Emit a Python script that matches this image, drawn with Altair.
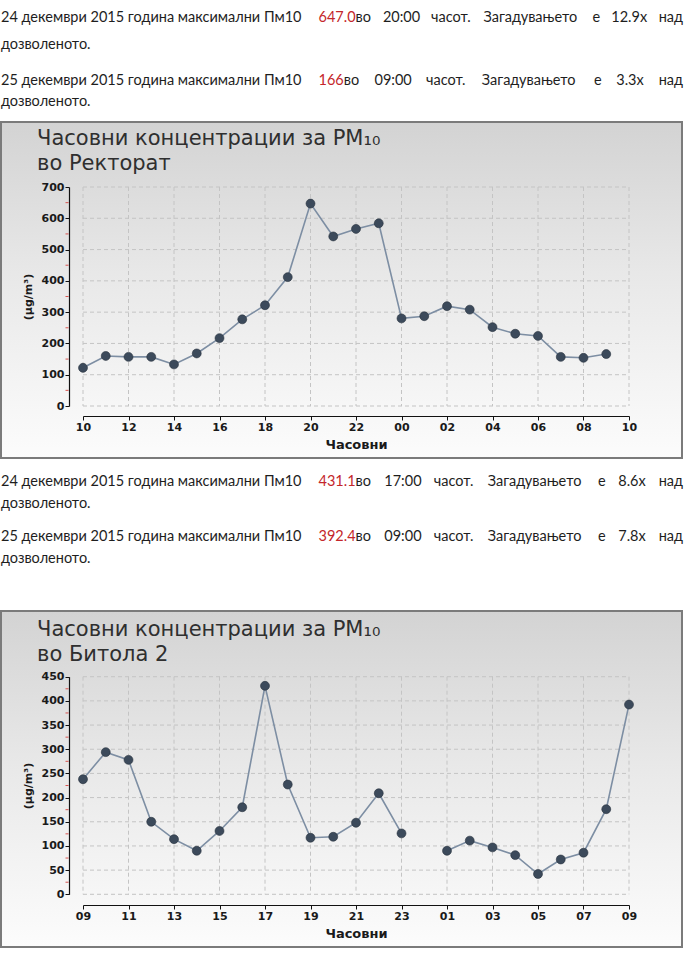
import altair as alt
import pandas as pd

# ---------------- data ----------------
hours_rektorat = list(range(10, 34))  # 10:00 (24.12) ... 09:00 (25.12)
pm10_rektorat = [122, 160, 157, 157, 133, 168, 217, 277, 322, 412, 647.0, 542,
                 566, 584, 280, 287, 319, 308, 252, 231, 224, 157, 154, 166]
xticks_rektorat = [10, 12, 14, 16, 18, 20, 22, 24, 26, 28, 30, 32, 34]
yticks_rektorat = [0, 100, 200, 300, 400, 500, 600, 700]
minor_rektorat = [50, 150, 250, 350, 450, 550, 650]

hours_bitola = list(range(9, 34))  # 09:00 (24.12) ... 09:00 (25.12)
pm10_bitola = [238, 294, 278, 150, 114, 90, 131, 180, 431.1, 227, 117, 119,
               148, 209, 126, None, 90, 111, 97, 81, 42, 72, 86, 176, 392.4]
xticks_bitola = [9, 11, 13, 15, 17, 19, 21, 23, 25, 27, 29, 31, 33]
yticks_bitola = [0, 50, 100, 150, 200, 250, 300, 350, 400, 450]
minor_bitola = [25, 75, 125, 175, 225, 275, 325, 375, 425]

chart_title = "Часовни концентрации за PM₁₀"
station_rektorat = "во Ректорат"
station_bitola = "во Битола 2"
x_title = "Часовни"
y_title = "(µg/m³)"

paragraphs_top = [
    ("24 декември 2015 година максимални Пм10", "647.0", "во",
     ["20:00", "часот.", "Загадувањето", "е", "12.9x", "над"], "дозволеното."),
    ("25 декември 2015 година максимални Пм10", "166", "во",
     ["09:00", "часот.", "Загадувањето", "е", "3.3x", "над"], "дозволеното."),
]
paragraphs_mid = [
    ("24 декември 2015 година максимални Пм10", "431.1", "во",
     ["17:00", "часот.", "Загадувањето", "е", "8.6x", "над"], "дозволеното."),
    ("25 декември 2015 година максимални Пм10", "392.4", "во",
     ["09:00", "часот.", "Загадувањето", "е", "7.8x", "над"], "дозволеното."),
]

# ---------------- style / layout ----------------
W = 690
RIGHT = 683
INK = "#1e1e1e"
RED = "#c4262b"
PFONT = "Lato"
PSIZE = 14.5

# approximate Lato advance widths (em), used only to lay out the justified lines
LATO = {' ': 0.193, '.': 0.23, ':': 0.25, 'x': 0.49,
        'а': 0.52, 'в': 0.56, 'д': 0.60, 'е': 0.55, 'з': 0.48, 'и': 0.62,
        'к': 0.55, 'л': 0.60, 'м': 0.77, 'н': 0.62, 'њ': 0.86, 'о': 0.58,
        'с': 0.48, 'т': 0.49, 'у': 0.53, 'ч': 0.57, 'г': 0.45, 'р': 0.59,
        'ј': 0.26, 'З': 0.58, 'П': 0.72}
for d in "0123456789":
    LATO[d] = 0.58


def tw(s):
    return sum(LATO.get(c, 0.56) for c in s) * PSIZE


def text_panel(paragraphs, line_ys, height):
    left_rows, right_rows = [], []
    for (lead, num, after, words, tail), (y1, y2) in zip(paragraphs, line_ys):
        x = 1.0
        left_rows.append({"t": lead, "x": x, "y": y1, "c": INK})
        x += tw(lead) + 8
        left_rows.append({"t": num, "x": x, "y": y1, "c": RED})
        x += tw(num)
        left_rows.append({"t": after, "x": x, "y": y1, "c": INK})
        x += tw(after)
        gap = (RIGHT - x - sum(tw(w) for w in words)) / len(words)
        for i, w in enumerate(words):
            x += gap
            if i == len(words) - 1:
                right_rows.append({"t": w, "x": RIGHT, "y": y1, "c": INK})
            else:
                left_rows.append({"t": w, "x": x, "y": y1, "c": INK})
            x += tw(w)
        left_rows.append({"t": tail, "x": 1.0, "y": y2, "c": INK})

    def lay(rows, align):
        return alt.Chart(pd.DataFrame(rows)).mark_text(
            align=align, baseline="middle", font=PFONT, fontSize=PSIZE
        ).encode(
            x=alt.X("x:Q", scale=None, axis=None),
            y=alt.Y("y:Q", scale=None, axis=None),
            text="t:N",
            color=alt.Color("c:N", scale=None),
        )

    return alt.layer(lay(left_rows, "left"), lay(right_rows, "right")).properties(
        width=W, height=height
    )


GRAD = alt.LinearGradient(
    gradient="linear", x1=0, x2=0, y1=0, y2=1,
    stops=[alt.GradientStop(color="#d3d3d3", offset=0),
           alt.GradientStop(color="#e8e8e8", offset=0.45),
           alt.GradientStop(color="#fcfcfc", offset=1)],
)

LBL = "(datum.value % 24 < 10 ? '0' : '') + (datum.value % 24)"
AXF = "DejaVu Sans"


def chart_panel(hours, values, xdom, xticks, ydom, yticks, minor, station,
                H, box_y, y_top, y_zero, x_axis_y, title_ys):
    rows, s = [], 0
    for h, v in zip(hours, values):
        if v is None:
            s += 1
            continue
        rows.append({"h": h, "v": v, "s": s})
    df = pd.DataFrame(rows)
    one = pd.DataFrame({"k": [0]})

    xs = alt.Scale(domain=xdom, range=[83, 629], nice=False, zero=False)
    ys = alt.Scale(domain=ydom, range=[y_zero, y_top], nice=False, zero=False)

    xaxis = alt.Axis(
        values=xticks, tickCount=len(xticks), labelExpr=LBL, title=x_title, orient="bottom",
        offset=x_axis_y - H, grid=False, zindex=1,
        domainColor="#111111", domainWidth=1.2, tickColor="#111111", tickSize=4,
        labelFont=AXF, labelFontWeight="bold", labelFontSize=11, labelColor="#1a1a1a",
        labelPadding=1, labelFlush=False, labelOverlap=False,
        titleFont=AXF, titleFontWeight="bold", titleFontSize=13, titleColor="#1a1a1a",
        titlePadding=6,
    )
    yaxis = alt.Axis(
        values=yticks, tickCount=len(yticks), title=y_title, orient="left", offset=-69,
        grid=False, zindex=1,
        domainColor="#111111", domainWidth=1.2, tickColor="#111111", tickSize=4,
        labelFont=AXF, labelFontWeight="bold", labelFontSize=11, labelColor="#1a1a1a",
        labelPadding=1, labelOverlap=False,
        titleFont=AXF, titleFontWeight="bold", titleFontSize=11, titleColor="#1a1a1a",
        titlePadding=8,
    )
    X = alt.X("h:Q", scale=xs, axis=xaxis)
    Y = alt.Y("v:Q", scale=ys, axis=yaxis)

    bg = alt.Chart(one).mark_rect(fill=GRAD, stroke="#7b7b7b", strokeWidth=2).encode(
        x=alt.value(1), x2=alt.value(682), y=alt.value(box_y), y2=alt.value(box_y + 336)
    )
    hgrid = alt.Chart(pd.DataFrame({"v": yticks})).mark_rule(
        color="#c4c4c4", strokeDash=[4, 3], strokeWidth=1
    ).encode(y=Y, x=alt.datum(xdom[0]), x2=alt.datum(xdom[1]))
    vgrid = alt.Chart(pd.DataFrame({"h": xticks})).mark_rule(
        color="#c4c4c4", strokeDash=[4, 3], strokeWidth=1
    ).encode(x=X, y=alt.datum(ydom[1]), y2=alt.datum(ydom[0]))
    minor_t = alt.Chart(pd.DataFrame({"v": minor})).mark_rule(
        color="#d9534f", strokeWidth=1
    ).encode(y=Y, x=alt.value(65.5), x2=alt.value(68.5))
    line = alt.Chart(df).mark_line(color="#7d8ea3", strokeWidth=1.6).encode(
        x=X, y=Y, detail="s:N"
    )
    pts = alt.Chart(df).mark_circle(
        size=80, color="#3c4a5b", opacity=1, stroke="#27313c", strokeWidth=0.6
    ).encode(x=X, y=Y)
    t1 = alt.Chart(one).mark_text(
        align="left", baseline="alphabetic", font=AXF, fontSize=21, color="#2f2f2f"
    ).encode(x=alt.value(37), y=alt.value(title_ys[0]), text=alt.value(chart_title))
    t2 = alt.Chart(one).mark_text(
        align="left", baseline="alphabetic", font=AXF, fontSize=21, color="#2f2f2f"
    ).encode(x=alt.value(37), y=alt.value(title_ys[1]), text=alt.value(station))

    return alt.layer(bg, hgrid, vgrid, minor_t, line, pts, t1, t2).properties(
        width=W, height=H
    )


text_top = text_panel(paragraphs_top, [(18, 45), (81, 102)], 120)
chart_rek = chart_panel(hours_rektorat, pm10_rektorat, [10, 34], xticks_rektorat,
                        [0, 700], yticks_rektorat, minor_rektorat, station_rektorat,
                        H=340, box_y=2, y_top=67, y_zero=286, x_axis_y=296,
                        title_ys=(25, 50))
text_mid = text_panel(paragraphs_mid, [(22, 44), (77, 99)], 150)
chart_bit = chart_panel(hours_bitola, pm10_bitola, [9, 33], xticks_bitola,
                        [0, 450], yticks_bitola, minor_bitola, station_bitola,
                        H=340, box_y=1, y_top=66.7, y_zero=284.3, x_axis_y=295,
                        title_ys=(26, 51))

chart = alt.vconcat(text_top, chart_rek, text_mid, chart_bit, spacing=0, bounds="flush").properties(
    padding=0
).configure_view(strokeWidth=0)

chart.save("out.html", embed_options={"renderer": "svg", "actions": False})
